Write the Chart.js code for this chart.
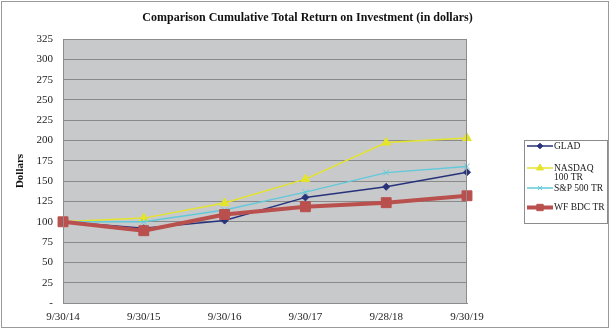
<!DOCTYPE html>
<html>
<head>
<meta charset="utf-8">
<script src="https://cdn.jsdelivr.net/npm/chart.js@4.4.0/dist/chart.umd.min.js"></script>
<style>
  body { margin: 0; background: #fff; }
  #wrap { position: relative; width: 611px; height: 332px; }
  #frame { position: absolute; left: 1px; top: 1px; width: 606px; height: 325px; border: 1px solid #9a9a9a; pointer-events: none; }
  #title {
    position: absolute; left: 2px; top: 10px; width: 611px; text-align: center;
    font: bold 12px "Liberation Serif", "Times New Roman", serif; color: #111;
  }
</style>
</head>
<body>
<div id="wrap">
  <canvas id="returnsChart" width="611" height="332"></canvas>
  <div id="title">Comparison Cumulative Total Return on Investment (in dollars)</div>
  <div id="frame"></div>
</div>
<script>
document.addEventListener('DOMContentLoaded', function() {
    // Period end dates
    const periods = ['9/30/14', '9/30/15', '9/30/16', '9/30/17', '9/28/18', '9/30/19'];

    // Value of $100 invested, per series
    const glad = [100, 92, 101.5, 130, 143, 161];
    const nasdaq100 = [100, 104.5, 123, 152.5, 197.5, 203];
    const sp500 = [100, 100, 114.5, 136.5, 160.5, 168];
    const wfBdc = [100, 89, 109, 118.5, 123.5, 132];

    const yTicks = { min: 0, max: 325, step: 25 };

    const serif = '"Liberation Serif", "Times New Roman", serif';

    // Gray plot background and border
    const plotArea = {
        id: 'plotArea',
        beforeDraw(chart) {
            const { ctx, chartArea: a } = chart;
            ctx.save();
            ctx.fillStyle = '#c8c9cb';
            ctx.fillRect(a.left, a.top, a.right - a.left, a.bottom - a.top);
            ctx.restore();
        },
        afterDatasetsDraw(chart) {
            const { ctx, chartArea: a } = chart;
            ctx.save();
            ctx.strokeStyle = '#8c8c8c';
            ctx.lineWidth = 1;
            ctx.strokeRect(a.left + 0.5, a.top + 0.5, a.right - a.left - 1, a.bottom - a.top);
            ctx.restore();
        }
    };

    // Boxed legend to the right of the plot
    const sideLegend = {
        id: 'sideLegend',
        afterDraw(chart) {
            const { ctx } = chart;
            const rows = [
                { ds: 0, y: 146, r: 2.8, text: ['GLAD'] },
                { ds: 1, y: 168, r: 4, text: ['NASDAQ', '100 TR'] },
                { ds: 2, y: 188, r: 3, text: ['S&P 500 TR'] },
                { ds: 3, y: 207.5, r: 4.5, text: ['WF BDC TR'] }
            ];
            ctx.save();
            ctx.fillStyle = '#fff';
            ctx.fillRect(524, 140, 83, 83);
            ctx.strokeStyle = '#8c8c8c';
            ctx.lineWidth = 1;
            ctx.strokeRect(524.5, 140.5, 83, 83);
            rows.forEach(function(r) {
                const d = chart.data.datasets[r.ds];
                ctx.strokeStyle = d.borderColor;
                ctx.lineWidth = d.borderWidth;
                ctx.beginPath();
                ctx.moveTo(527, r.y);
                ctx.lineTo(553, r.y);
                ctx.stroke();
                ctx.fillStyle = d.pointBackgroundColor;
                ctx.strokeStyle = d.pointBorderColor;
                ctx.lineWidth = 1;
                Chart.helpers.drawPoint(ctx, {
                    pointStyle: d.pointStyle,
                    radius: r.r,
                    borderWidth: 1,
                    rotation: 0
                }, 540, r.y);
                ctx.fillStyle = '#1a1a1a';
                ctx.font = '9.5px ' + serif;
                ctx.textBaseline = 'middle';
                ctx.textAlign = 'left';
                r.text.forEach(function(t, i) {
                    ctx.fillText(t, 554, r.y + i * 9.5);
                });
            });
            ctx.restore();
        }
    };

    function series(label, data, color, style, radius, width, order) {
        return {
            label: label,
            data: data,
            borderColor: color,
            backgroundColor: color,
            pointBackgroundColor: color,
            pointBorderColor: color,
            borderWidth: width,
            pointStyle: style,
            pointRadius: radius,
            pointBorderWidth: 1,
            tension: 0,
            order: order
        };
    }

    const ctx = document.getElementById('returnsChart').getContext('2d');
    new Chart(ctx, {
        type: 'line',
        data: {
            labels: periods,
            datasets: [
                series('GLAD', glad, '#27327a', 'rectRot', 3.5, 1.5, 1),
                series('NASDAQ 100 TR', nasdaq100, '#e4e42c', 'triangle', 5, 1.5, 3),
                series('S&P 500 TR', sp500, '#62c9da', 'crossRot', 4, 1.5, 2),
                series('WF BDC TR', wfBdc, '#b9504e', 'rect', 7, 4, 0)
            ]
        },
        plugins: [plotArea, sideLegend],
        options: {
            responsive: false,
            animation: false,
            layout: { padding: { left: 0, top: 39, right: 144, bottom: 0 } },
            plugins: {
                legend: { display: false },
                tooltip: { enabled: false }
            },
            scales: {
                x: {
                    offset: false,
                    grid: { display: false, drawTicks: false },
                    border: { color: '#8c8c8c' },
                    ticks: {
                        color: '#222',
                        font: { family: serif, size: 11 },
                        padding: 8,
                        maxRotation: 0,
                        autoSkip: false
                    },
                    afterFit: function(s) { s.height = 29; }
                },
                y: {
                    min: yTicks.min,
                    max: yTicks.max,
                    grid: { color: '#8a8a8a', drawTicks: false },
                    border: { color: '#8c8c8c' },
                    ticks: {
                        stepSize: yTicks.step,
                        color: '#222',
                        font: { family: serif, size: 11 },
                        padding: 10,
                        callback: function(v) { return v === 0 ? '-' : v; }
                    },
                    title: {
                        display: true,
                        text: 'Dollars',
                        color: '#111',
                        font: { family: serif, size: 11, weight: 'bold' },
                        padding: { top: 14, bottom: 0 }
                    },
                    afterFit: function(s) { s.width = 63; }
                }
            }
        }
    });
});
</script>
</body>
</html>
